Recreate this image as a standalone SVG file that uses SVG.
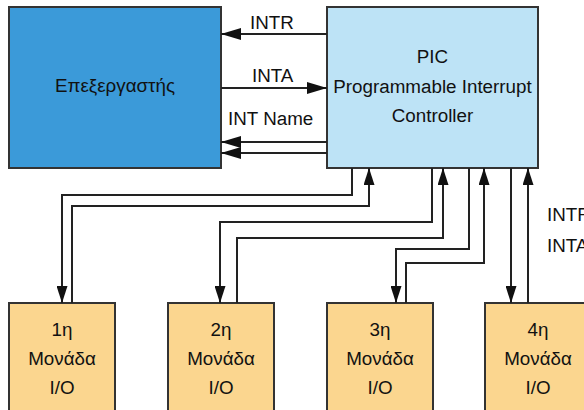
<svg xmlns="http://www.w3.org/2000/svg" width="584" height="410" viewBox="0 0 584 410">
<defs>
<style>
.t{font-family:"Liberation Sans",Arial,sans-serif;font-size:18.8px;fill:#111;}
.c{text-anchor:middle;}
.ln{fill:none;stroke:#222;stroke-width:2;}
.box{stroke:#333;stroke-width:2;}
</style>
<marker id="ah" markerUnits="userSpaceOnUse" markerWidth="20" markerHeight="12" refX="20" refY="6" orient="auto">
<path d="M0,0 L20,6 L0,12 z" fill="#111"/>
</marker>
<marker id="av" markerUnits="userSpaceOnUse" markerWidth="17" markerHeight="11" refX="17" refY="5.5" orient="auto">
<path d="M0,0 L17,5.5 L0,11 z" fill="#111"/>
</marker>
</defs>
<rect width="584" height="410" fill="#fff"/>
<g id="cpu">
<rect class="box" x="9" y="7" width="212" height="161" fill="#3b9ad9"/>
<text class="t c" x="115" y="92">Επεξεργαστής</text>
</g>
<g id="pic">
<rect class="box" x="327" y="7" width="211" height="161" fill="#bde3f6"/>
<text class="t c" x="432.5" y="63">PIC</text>
<text class="t c" x="432.5" y="93">Programmable Interrupt</text>
<text class="t c" x="432.5" y="122">Controller</text>
</g>
<g id="io1">
<rect class="box" x="9" y="303" width="106" height="112" fill="#fbd68f"/>
<text class="t c" x="62" y="336">1η</text>
<text class="t c" x="62" y="365">Μονάδα</text>
<text class="t c" x="62" y="394">I/O</text>
</g>
<g id="io2">
<rect class="box" x="168" y="303" width="106" height="112" fill="#fbd68f"/>
<text class="t c" x="221" y="336">2η</text>
<text class="t c" x="221" y="365">Μονάδα</text>
<text class="t c" x="221" y="394">I/O</text>
</g>
<g id="io3">
<rect class="box" x="327" y="303" width="106" height="112" fill="#fbd68f"/>
<text class="t c" x="380" y="336">3η</text>
<text class="t c" x="380" y="365">Μονάδα</text>
<text class="t c" x="380" y="394">I/O</text>
</g>
<g id="io4">
<rect class="box" x="485" y="303" width="106" height="112" fill="#fbd68f"/>
<text class="t c" x="538" y="336">4η</text>
<text class="t c" x="538" y="365">Μονάδα</text>
<text class="t c" x="538" y="394">I/O</text>
</g>
<g id="connectors">
<path class="ln" d="M327,34 H221" marker-end="url(#ah)"/>
<path class="ln" d="M221,88 H327" marker-end="url(#ah)"/>
<path class="ln" d="M327,142 H221" marker-end="url(#ah)"/>
<path class="ln" d="M327,153 H221" marker-end="url(#ah)"/>
<path class="ln" d="M352,168 V195 H62 V303" marker-end="url(#av)"/>
<path class="ln" d="M72,303 V206 H369 V168" marker-end="url(#av)"/>
<path class="ln" d="M432,168 V222 H220 V303" marker-end="url(#av)"/>
<path class="ln" d="M237,303 V238 H443 V168" marker-end="url(#av)"/>
<path class="ln" d="M469,168 V249 H396 V303" marker-end="url(#av)"/>
<path class="ln" d="M406,303 V263 H484 V168" marker-end="url(#av)"/>
<path class="ln" d="M511,168 V303" marker-end="url(#av)"/>
<path class="ln" d="M528,303 V168" marker-end="url(#av)"/>
<text class="t" x="250" y="29">INTR</text>
<text class="t" x="252" y="82">INTA</text>
<text class="t" x="228" y="125">INT Name</text>
<text class="t" x="547" y="221">INTR</text>
<text class="t" x="547" y="252">INTA</text>
</g>
</svg>
